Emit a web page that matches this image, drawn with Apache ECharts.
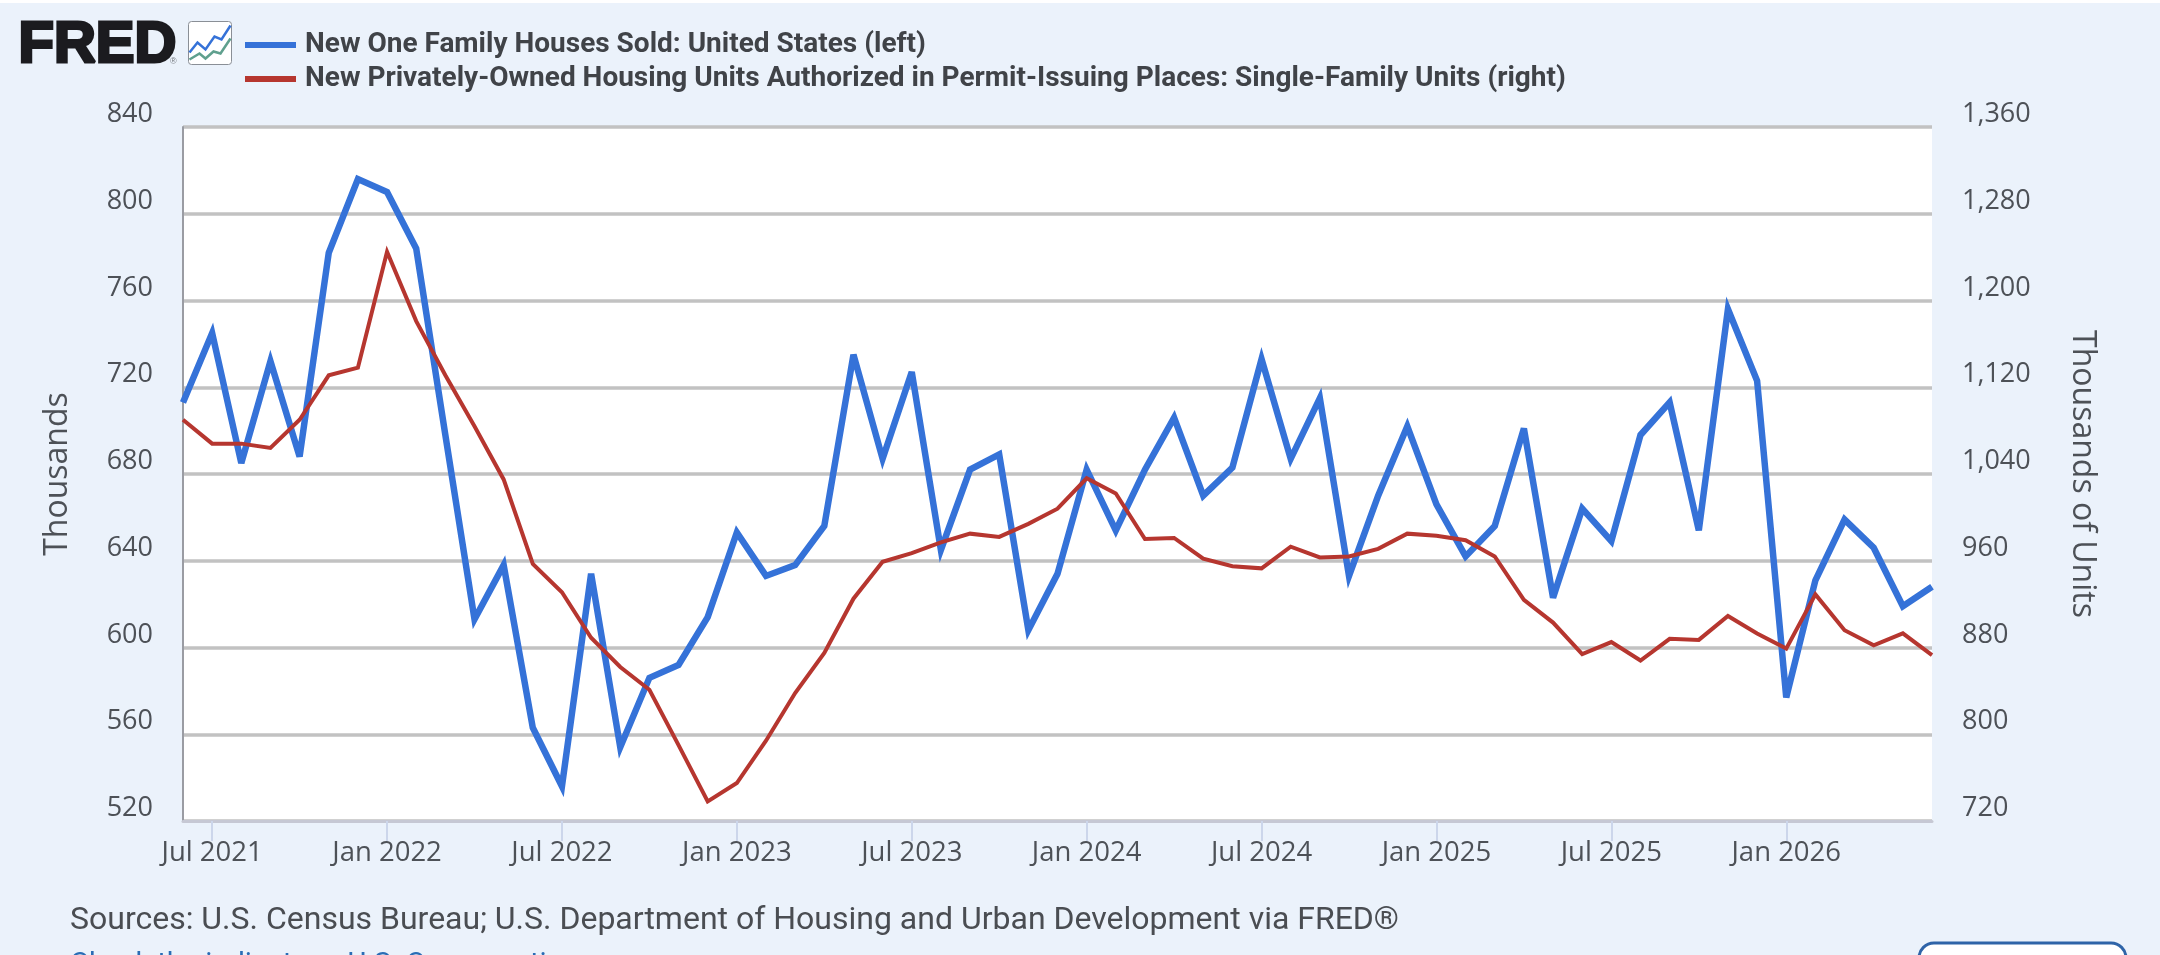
<!DOCTYPE html>
<html>
<head>
<meta charset="utf-8">
<style>
html,body{margin:0;padding:0;background:#ebf2fb;overflow:hidden}
#chart{width:2160px;height:955px}
</style>
<script src="https://cdn.jsdelivr.net/npm/echarts@6/dist/echarts.min.js"></script>
</head>
<body>
<div id="chart"></div>
<script>
// Monthly observations, Jun 2021 through Jun 2026
const months = ['Jun 2021','Jul 2021','Aug 2021','Sep 2021','Oct 2021','Nov 2021','Dec 2021',
  'Jan 2022','Feb 2022','Mar 2022','Apr 2022','May 2022','Jun 2022','Jul 2022','Aug 2022','Sep 2022','Oct 2022','Nov 2022','Dec 2022',
  'Jan 2023','Feb 2023','Mar 2023','Apr 2023','May 2023','Jun 2023','Jul 2023','Aug 2023','Sep 2023','Oct 2023','Nov 2023','Dec 2023',
  'Jan 2024','Feb 2024','Mar 2024','Apr 2024','May 2024','Jun 2024','Jul 2024','Aug 2024','Sep 2024','Oct 2024','Nov 2024','Dec 2024',
  'Jan 2025','Feb 2025','Mar 2025','Apr 2025','May 2025','Jun 2025','Jul 2025','Aug 2025','Sep 2025','Oct 2025','Nov 2025','Dec 2025',
  'Jan 2026','Feb 2026','Mar 2026','Apr 2026','May 2026','Jun 2026'];

// New one family houses sold, thousands (left axis)
const housesSold = [713,745,685,732,688,782,816,810,784,698,613,638,563,536,634,554,586,592,614,
  653,633,638,656,735,687,727,645,682,689,608,634,
  682,654,682,706,670,683,733,687,715,633,670,702,
  666,642,656,701,623,664,649,698,713,654,756,723,
  577,631,659,646,619,628];

// Single-family units authorized by permit, thousands of units (right axis)
const permits = [1090,1068,1068,1064,1090,1131,1138,1245,1181,1131,1084,1035,957,931,889,862,841,790,738,
  755,794,838,875,925,959,967,977,985,982,994,1008,
  1036,1022,980,981,962,955,953,973,963,964,971,985,
  983,979,964,924,903,874,885,868,888,887,909,893,
  879,929,896,882,893,873];

const seriesNames = [
  'New One Family Houses Sold: United States (left)',
  'New Privately-Owned Housing Units Authorized in Permit-Issuing Places: Single-Family Units (right)'
];
const sourceNote = 'Sources: U.S. Census Bureau; U.S. Department of Housing and Urban Development via FRED\u00AE';
const relatedLink = 'Check the indicators: U.S. Consumption';

const labelColor = '#4d5157';
const tickFont = {fontFamily:'"Open Sans"', fontSize:27, color:labelColor};
const showEverySixth = (i) => (i % 6) === 1;

const chart = echarts.init(document.getElementById('chart'), null, {renderer:'canvas'});
chart.setOption({
  animation:false,
  backgroundColor:'#ebf2fb',
  grid:{left:183, right:228, top:127, bottom:134, backgroundColor:'#ffffff', show:true, borderWidth:0},
  legend:{
    left:240, top:26, orient:'vertical', itemGap:6, itemWidth:51, itemHeight:6,
    icon:'rect', inactiveColor:'#333',
    textStyle:{fontFamily:'Roboto', fontWeight:700, fontSize:28, color:'#404348', padding:[0,0,0,4]},
    data:seriesNames
  },
  xAxis:{
    type:'category', data:months, boundaryGap:false,
    axisLine:{show:true, lineStyle:{color:'#c6c8d4', width:3}},
    axisTick:{show:true, length:20, interval:showEverySixth, lineStyle:{color:'#ccd6eb', width:2}},
    axisLabel:{...tickFont, fontSize:27.5, margin:18, interval:showEverySixth},
    splitLine:{show:false}
  },
  yAxis:[{
    type:'value', min:520, max:840, interval:40, position:'left',
    name:'Thousands', nameLocation:'middle', nameGap:109, nameRotate:90,
    nameTextStyle:{fontFamily:'"Open Sans"', fontSize:32, color:labelColor},
    axisLine:{show:true, lineStyle:{color:'#9a9ca3', width:2}},
    axisTick:{show:false},
    axisLabel:{...tickFont, margin:30, verticalAlign:'bottom', lineHeight:25},
    splitLine:{show:true, lineStyle:{color:'#c2c2c2', width:3.5}}
  },{
    type:'value', min:720, max:1360, interval:80, position:'right',
    name:'Thousands of Units', nameLocation:'middle', nameGap:134, nameRotate:-90,
    nameTextStyle:{fontFamily:'"Open Sans"', fontSize:32, color:labelColor},
    axisLine:{show:false}, axisTick:{show:false},
    axisLabel:{...tickFont, margin:30, verticalAlign:'bottom', lineHeight:25,
      formatter:(v)=>v.toLocaleString('en-US')},
    splitLine:{show:false}
  }],
  series:[
    {name:seriesNames[0], type:'line', yAxisIndex:0, data:housesSold, showSymbol:false, symbol:'none',
     itemStyle:{color:'#3572d8'}, lineStyle:{color:'#3572d8', width:6.5, join:'miter', miterLimit:4}, z:3},
    {name:seriesNames[1], type:'line', yAxisIndex:1, data:permits, showSymbol:false, symbol:'none',
     itemStyle:{color:'#b6362f'}, lineStyle:{color:'#b6362f', width:4, join:'miter', miterLimit:4}, z:4}
  ],
  graphic:[
    {type:'rect', left:0, top:0, shape:{width:2160, height:3}, style:{fill:'#ffffff'}, silent:true},
    {type:'text', left:17, top:15, style:{text:'FRED', font:'bold 58px "Liberation Sans"', fill:'#1b1b1f', stroke:'#1b1b1f', lineWidth:3}, silent:true},
    {type:'text', left:170, top:57, style:{text:'\u00AE', font:'9px "Liberation Sans"', fill:'#777b80'}, silent:true},
    {type:'group', left:187, top:21, children:[
      {type:'rect', shape:{x:0,y:0,width:43,height:43,r:3}, style:{fill:'#ffffff', stroke:'#8a8f96', lineWidth:1}},
      {type:'polyline', shape:{points:[[1,31],[9,21],[17,28],[26,15],[33,18],[42,4]]}, style:{stroke:'#3572d8', lineWidth:2.5, fill:'none'}},
      {type:'polyline', shape:{points:[[1,38],[11,32],[17,37],[25,30],[32,32],[42,17]]}, style:{stroke:'#5fa08e', lineWidth:2.5, fill:'none'}}
    ], silent:true},
    {type:'text', left:70, top:905, style:{text:sourceNote, font:'32px Roboto', fill:'#4a4d52'}, silent:true},
    {type:'text', left:70, top:951, style:{text:relatedLink, font:'29px Roboto', fill:'#2a6db5'}, silent:true},
    {type:'rect', shape:{x:1919,y:943,width:207,height:40,r:15}, style:{fill:'#ffffff', stroke:'#2f64a8', lineWidth:3}, silent:true}
  ]
});
</script>
</body>
</html>
